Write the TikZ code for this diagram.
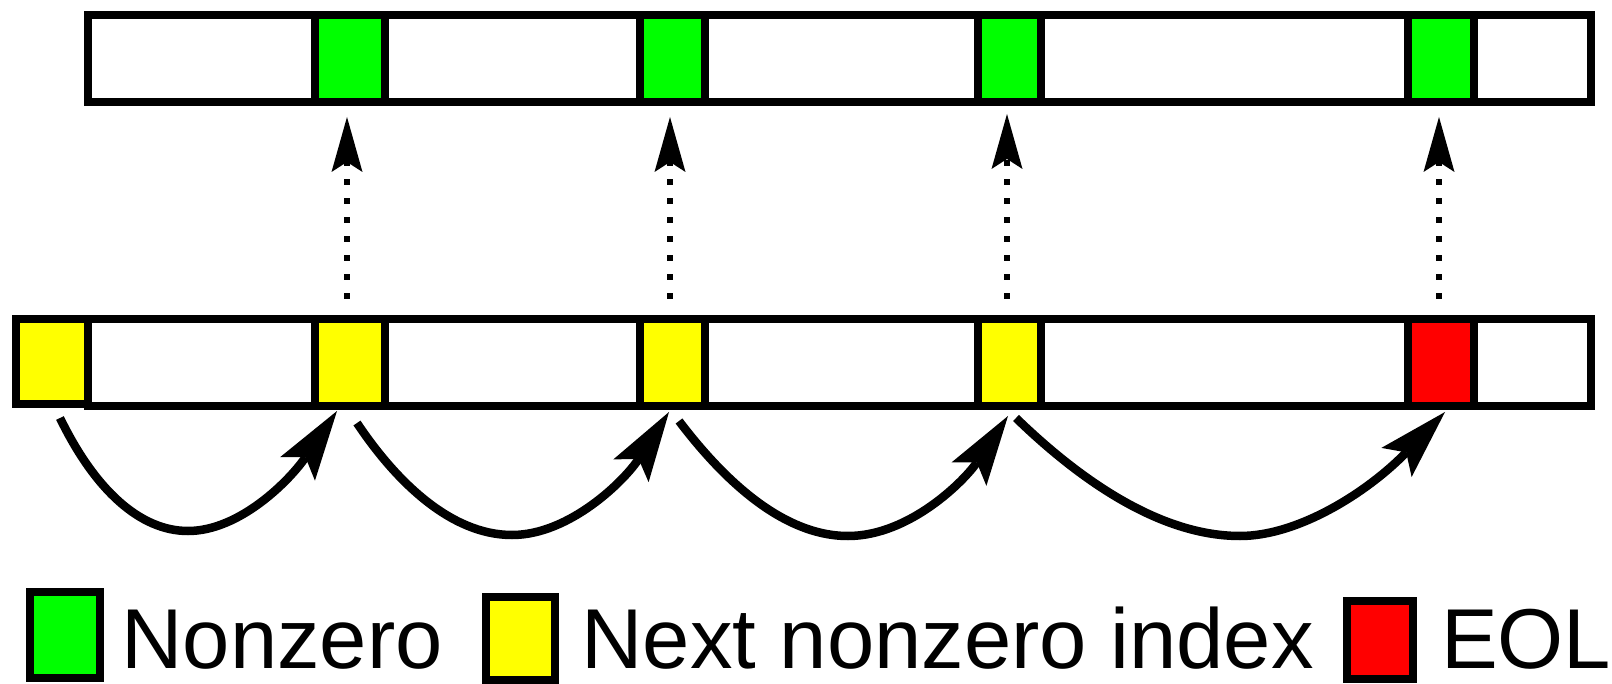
\documentclass[tikz,border=0pt]{standalone}
\usepackage{fontspec}
\setmainfont{Liberation Sans}
\usetikzlibrary{arrows.meta,calc}
\definecolor{nzgreen}{RGB}{0,255,0}
\definecolor{nxyellow}{RGB}{255,255,0}
\definecolor{eolred}{RGB}{255,0,0}
\begin{document}
\begin{tikzpicture}[x=1pt,y=-1pt,
  bar/.style={draw=black,fill=white,line width=8pt,inner sep=0pt,outer sep=0pt,minimum width=1503pt,minimum height=87pt},
  cellbox/.style={draw=black,line width=8pt,inner sep=0pt,outer sep=0pt,minimum height=87pt},
  jump/.style={line width=8.5pt,-{Stealth[length=70pt,width=42pt,inset=14pt,line width=0pt]}},
  link/.style={line width=6pt,dash pattern=on 5.5pt off 13.5pt,-{Stealth[length=55pt,width=31pt,inset=10pt,line width=0pt]}},
  legendbox/.style={draw=black,line width=8pt,inner sep=0pt,outer sep=0pt},
  legendtext/.style={anchor=base west,inner sep=0pt,outer sep=0pt,font=\fontsize{85pt}{90pt}\selectfont}]
\useasboundingbox (0,0) rectangle (1612,684);

% top row
\node[bar] (topbar) at (839.5,58.5) {};
\node[cellbox,fill=nzgreen,minimum width=70pt] (g1) at (350,58.5) {};
\node[cellbox,fill=nzgreen,minimum width=65pt] (g2) at (672.5,58.5) {};
\node[cellbox,fill=nzgreen,minimum width=63pt] (g3) at (1009.5,58.5) {};
\node[cellbox,fill=nzgreen,minimum width=66pt] (g4) at (1441,58.5) {};

% bottom row
\node[bar] (botbar) at (839.5,362.5) {};
\node[cellbox,fill=nxyellow,minimum width=72pt,minimum height=85pt] (y0) at (52,361.5) {};
\node[cellbox,fill=nxyellow,minimum width=70pt] (y1) at (350,362.5) {};
\node[cellbox,fill=nxyellow,minimum width=65pt] (y2) at (672.5,362.5) {};
\node[cellbox,fill=nxyellow,minimum width=63pt] (y3) at (1009.5,362.5) {};
\node[cellbox,fill=eolred,minimum width=66pt] (r4) at (1441,362.5) {};

% dotted links
\draw[link] ($(y1.north)+(-3,-20)$) -- ($(g1.south)+(-3,15)$);
\draw[link] ($(y2.north)+(-2.5,-20)$) -- ($(g2.south)+(-2.5,15)$);
\draw[link] ($(y3.north)+(-2.5,-20)$) -- ($(g3.south)+(-2.5,12)$);
\draw[link] ($(r4.north)+(-2,-20)$) -- ($(g4.south)+(-2,15)$);

% jumps
\draw[jump] ($(y0.south)+(8,14)$) .. controls (95,490) and (140,531) .. (188,531)
  .. controls (240,531) and (290,480) .. ($(y1.south)+(-13,5)$);
\draw[jump] ($(y1.south)+(7,17)$) .. controls (395,480) and (450,535) .. (512,535)
  .. controls (570,535) and (625,480) .. ($(y2.south)+(-3.5,6)$);
\draw[jump] ($(y2.south)+(6.5,15)$) .. controls (720,475) and (780,536) .. (848,536)
  .. controls (910,536) and (965,480) .. ($(y3.south)+(-1.5,10)$);
\draw[jump] ($(y3.south)+(6.5,12)$) .. controls (1080,480) and (1160,536) .. (1240,536)
  .. controls (1300,536) and (1370,490) .. ($(r4.south)+(4,6)$);

% legend
\node[legendbox,fill=nzgreen,minimum width=70pt,minimum height=86pt] (lg) at (65,635) {};
\node[legendtext] (lgt) at (121.5,668) {Nonzero};
\node[legendbox,fill=nxyellow,minimum width=69pt,minimum height=83pt] (ly) at (520.5,638.5) {};
\node[legendtext] (lyt) at (581.5,668) {Next nonzero index};
\node[legendbox,fill=eolred,minimum width=66pt,minimum height=78pt] (lr) at (1380,640) {};
\node[legendtext] (lrt) at (1441,668) {EOL};
\end{tikzpicture}
\end{document}
